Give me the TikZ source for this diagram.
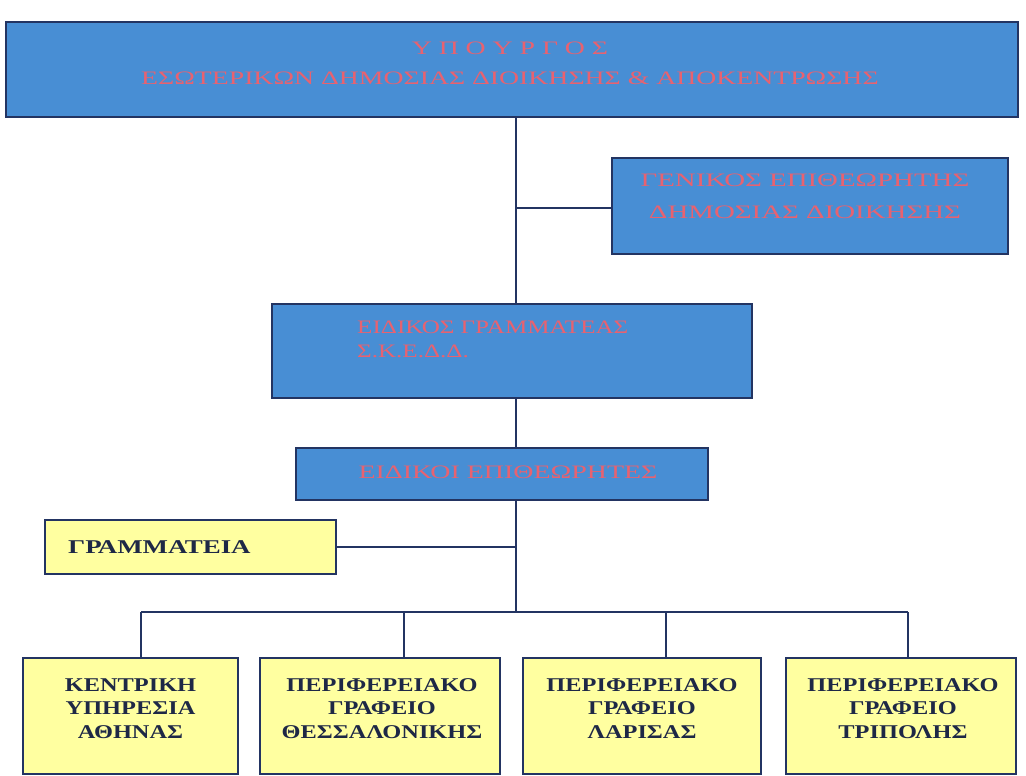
\documentclass[tikz,border=0pt]{standalone}
\usepackage{fontspec}
\setmainfont{Liberation Serif}
\usetikzlibrary{calc}
\definecolor{boxblue}{RGB}{72,142,212}
\definecolor{navy}{RGB}{35,52,98}
\definecolor{pinktext}{RGB}{232,98,112}
\definecolor{paleyellow}{RGB}{255,255,160}
\definecolor{darkink}{RGB}{30,40,70}
\newcommand{\stretchfont}[3]{\fontsize{#1}{#2}\selectfont\addfontfeature{FakeStretch=#3}}
\begin{document}
\begin{tikzpicture}[x=1pt,y=-1pt,
  bluebox/.style={draw=navy, line width=2.5pt, fill=boxblue, inner sep=0pt},
  yellowbox/.style={draw=navy, line width=2.5pt, fill=paleyellow, inner sep=0pt},
  bluetext/.style={text=pinktext, inner sep=0pt},
  darktext/.style={text=darkink, inner sep=0pt, align=center},
  link/.style={draw=navy, line width=2pt}]
\fill[white] (0,0) rectangle (1026,776);
\useasboundingbox (0,0) rectangle (1026,776);

% boxes
\node[bluebox, minimum width=1012pt, minimum height=95pt] (top) at (512,69.5) {};
\node[bluebox, minimum width=396pt, minimum height=96pt] (gen) at (810,206) {};
\node[bluebox, minimum width=480pt, minimum height=94pt] (spec) at (512,351) {};
\node[bluebox, minimum width=412pt, minimum height=52pt] (insp) at (502,474) {};
\node[yellowbox, minimum width=291pt, minimum height=54pt] (secr) at (190.5,547) {};
\node[yellowbox, minimum width=215pt, minimum height=116pt] (b1) at (130.5,716) {};
\node[yellowbox, minimum width=240pt, minimum height=116pt] (b2) at (380,716) {};
\node[yellowbox, minimum width=238pt, minimum height=116pt] (b3) at (642,716) {};
\node[yellowbox, minimum width=230pt, minimum height=116pt] (b4) at (901,716) {};

% texts
\node[bluetext, align=center, anchor=north, font=\stretchfont{19}{30}{1.46}] (toptext) at (510,41.5)
  {Υ Π Ο Υ Ρ Γ Ο Σ\\ΕΣΩΤΕΡΙΚΩΝ ΔΗΜΟΣΙΑΣ ΔΙΟΙΚΗΣΗΣ \& ΑΠΟΚΕΝΤΡΩΣΗΣ};
\node[bluetext, align=center, anchor=north, font=\stretchfont{19}{32}{1.52}] (gentext) at (805,174)
  {ΓΕΝΙΚΟΣ ΕΠΙΘΕΩΡΗΤΗΣ\\ΔΗΜΟΣΙΑΣ ΔΙΟΙΚΗΣΗΣ};
\node[bluetext, align=left, anchor=north west, font=\stretchfont{19}{24}{1.32}] (spectext) at (357,320.5)
  {ΕΙΔΙΚΟΣ ΓΡΑΜΜΑΤΕΑΣ\\Σ.Κ.Ε.Δ.Δ.};
\node[bluetext, font=\stretchfont{19}{24}{1.47}] (insptext) at (508,472) {ΕΙΔΙΚΟΙ ΕΠΙΘΕΩΡΗΤΕΣ};
\node[darktext, anchor=west, font=\bfseries\stretchfont{19.5}{23.5}{1.38}] (secrtext) at (68,547) {ΓΡΑΜΜΑΤΕΙΑ};
\tikzset{btext/.style={darktext, font=\bfseries\stretchfont{19.5}{23.5}{1.25}}}
\node[btext] (b1text) at (130.5,708.5) {ΚΕΝΤΡΙΚΗ\\ΥΠΗΡΕΣΙΑ\\ΑΘΗΝΑΣ};
\node[btext] (b2text) at (382,708.5) {ΠΕΡΙΦΕΡΕΙΑΚΟ\\ΓΡΑΦΕΙΟ\\ΘΕΣΣΑΛΟΝΙΚΗΣ};
\node[btext] (b3text) at (642,708.5) {ΠΕΡΙΦΕΡΕΙΑΚΟ\\ΓΡΑΦΕΙΟ\\ΛΑΡΙΣΑΣ};
\node[btext] (b4text) at (903,708.5) {ΠΕΡΙΦΕΡΕΙΑΚΟ\\ΓΡΑΦΕΙΟ\\ΤΡΙΠΟΛΗΣ};

% connectors
\coordinate (j1) at (516,208);
\coordinate (j3) at (516,612);
\coordinate (d1) at (141,612);
\coordinate (d2) at (404,612);
\coordinate (d3) at (666,612);
\coordinate (d4) at (908,612);
\draw[link] (top.south -| j1) -- (spec.north -| j1);
\draw[link] (j1) -- (j1 -| gen.west);
\draw[link] (spec.south -| j1) -- (insp.north -| j1);
\draw[link] (insp.south -| j1) -- (j3);
\draw[link] (secr.east) -- (secr.east -| j1);
\draw[link] (d1) -- (d4);
\draw[link] (d1) -- (d1 |- b1.north);
\draw[link] (d2) -- (d2 |- b2.north);
\draw[link] (d3) -- (d3 |- b3.north);
\draw[link] (d4) -- (d4 |- b4.north);
\end{tikzpicture}
\end{document}
